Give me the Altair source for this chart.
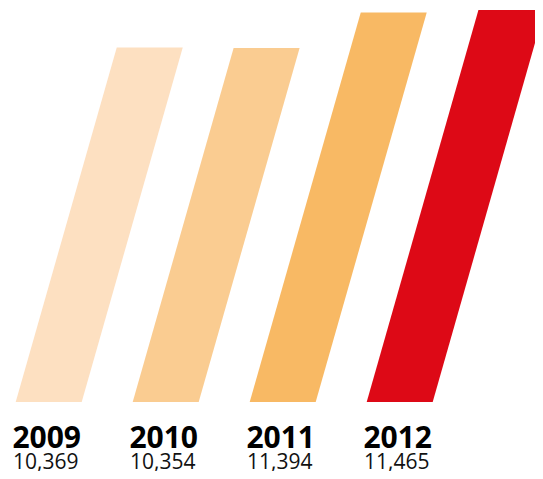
import altair as alt
import pandas as pd

years = ["2009", "2010", "2011", "2012"]
values = [10369, 10354, 11394, 11465]
colors = ["#FDE0C1", "#FACC91", "#F8B964", "#DD0916"]

rows = []
for i, (yr, v) in enumerate(zip(years, values)):
    rows.append({"year": yr, "idx": i, "value": v, "level": 0})
    rows.append({"year": yr, "idx": i, "value": v, "level": v})
bars_df = pd.DataFrame(rows)
labels_df = pd.DataFrame({"year": years, "idx": list(range(4)), "value": values})

W, H = 527, 463
xscale = alt.Scale(domain=[-7.7 / 117, (W - 7.7) / 117], nice=False, zero=False)
per_px = 11465 / 392
yscale = alt.Scale(domain=[-(H - 394) * per_px, 394 * per_px], nice=False, zero=False)
cscale = alt.Scale(domain=years, range=colors)

bars = alt.Chart(bars_df).transform_calculate(
    xl="datum.idx + 0.0000833 * datum.level",
    xr="datum.idx + 0.0000833 * datum.level + 0.564",
).mark_area(clip=False, orient="horizontal").encode(
    y=alt.Y("level:Q", scale=yscale, axis=None),
    x=alt.X("xl:Q", scale=xscale, axis=None, stack=None),
    x2="xr:Q",
    color=alt.Color("year:N", scale=cscale, legend=None),
    detail="year:N",
)

base_txt = alt.Chart(labels_df).transform_calculate(
    xc="datum.idx + 0.282",
    zero="0",
)

year_txt = base_txt.mark_text(
    font="Open Sans", fontWeight="bold", fontSize=30, color="#000000",
    align="center", baseline="alphabetic", dy=46, dx=-2,
).encode(
    x=alt.X("xc:Q", scale=xscale, axis=None),
    y=alt.Y("zero:Q", scale=yscale, axis=None),
    text="year:N",
)

val_txt = base_txt.mark_text(
    font="Open Sans", fontSize=21, color="#111111",
    align="center", baseline="alphabetic", dy=67, dx=-3,
).encode(
    x=alt.X("xc:Q", scale=xscale, axis=None),
    y=alt.Y("zero:Q", scale=yscale, axis=None),
    text=alt.Text("value:Q", format=","),
)

chart = alt.layer(bars, year_txt, val_txt).properties(
    width=W, height=H,
    autosize=alt.AutoSizeParams(type="none"),
    padding=0,
    background="#FFFFFF",
).configure_view(strokeWidth=0, stroke="transparent")

chart.save("out.html", embed_options={"renderer": "svg", "actions": False})
